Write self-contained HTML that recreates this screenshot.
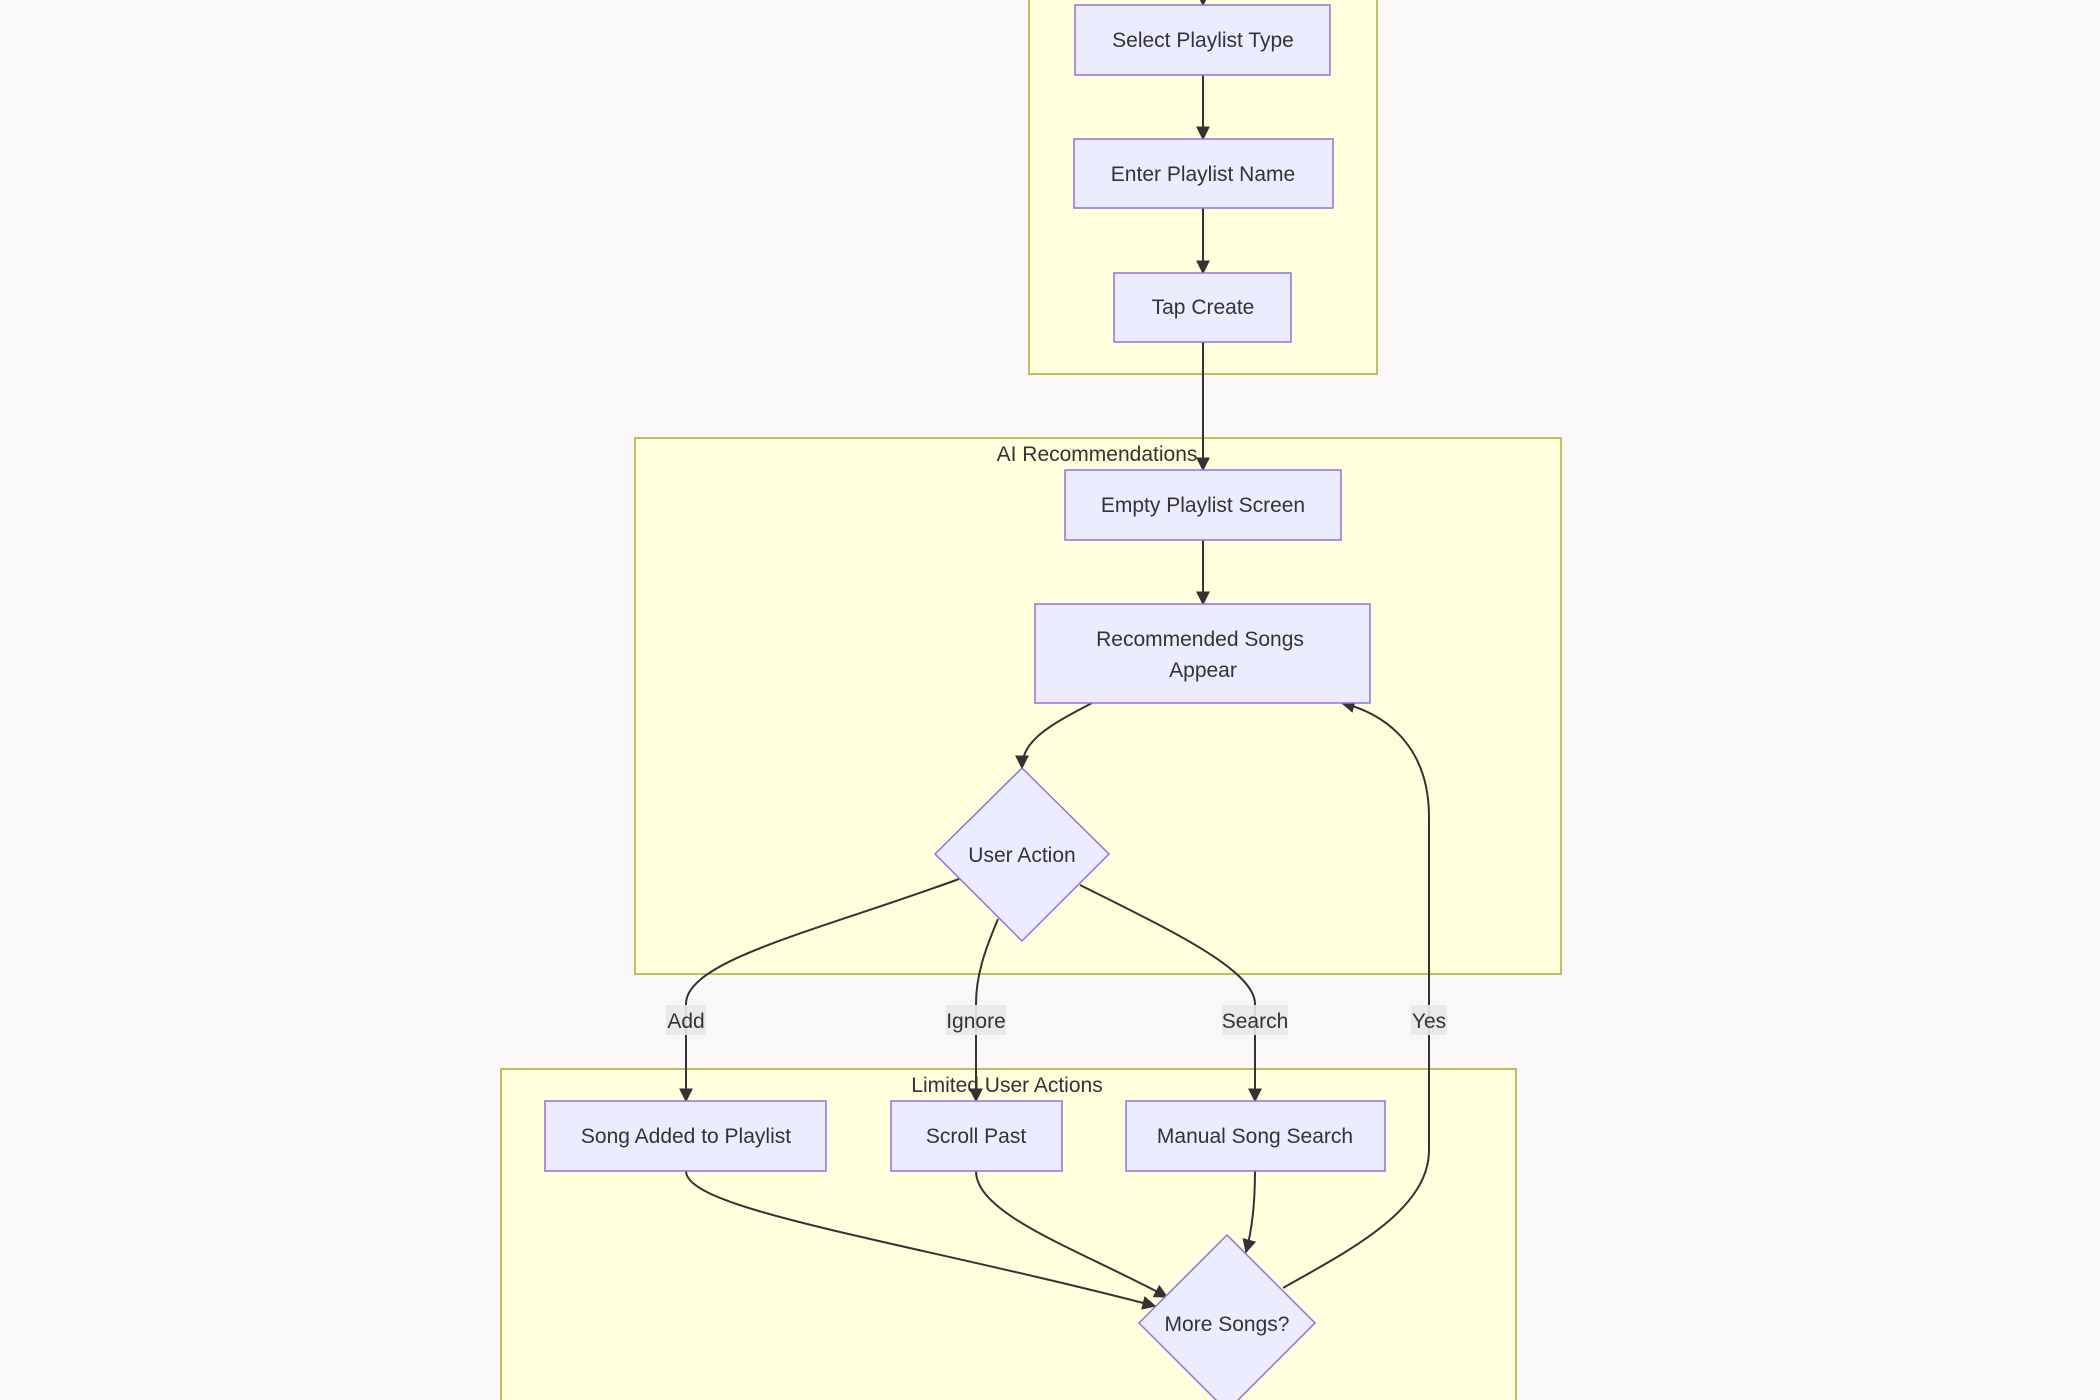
<!DOCTYPE html>
<html><head><meta charset="utf-8"><style>
html,body{margin:0;padding:0;background:#f9f8f7;}
svg{display:block}
text{font-family:"Liberation Sans","DejaVu Sans",sans-serif;font-size:21px;fill:#333;}
.c{fill:#ffffde;stroke:#aaaa33;stroke-width:1.5}
.n{fill:#ececff;stroke:#9370db;stroke-width:1.5}
.e{fill:none;stroke:#333;stroke-width:2}
.lb{fill:#e8e8e8;opacity:0.9}
</style></head><body>
<svg width="2100" height="1400" viewBox="0 0 2100 1400" xmlns="http://www.w3.org/2000/svg">
<defs><marker id="a" viewBox="0 0 10 10" refX="9" refY="5" markerWidth="7" markerHeight="7" orient="auto"><path d="M0,0L10,5L0,10z" fill="#333"/></marker></defs>
<rect x="0" y="0" width="2100" height="1400" fill="#f9f8f7"/>
<rect class="c" x="1029" y="-10" width="348" height="384"/>
<rect class="c" x="635" y="438" width="926" height="536"/>
<rect class="c" x="501" y="1069" width="1015" height="345"/>
<text x="1097" y="461" text-anchor="middle">AI Recommendations</text>
<text x="1007" y="1092" text-anchor="middle">Limited User Actions</text>

<path class="e" marker-end="url(#a)" d="M1203,-5L1203,5"/>
<path class="e" marker-end="url(#a)" d="M1203,75L1203,139"/>
<path class="e" marker-end="url(#a)" d="M1203,208L1203,273"/>
<path class="e" marker-end="url(#a)" d="M1203,342L1203,470"/>
<path class="e" marker-end="url(#a)" d="M1203,540L1203,604"/>
<path class="e" marker-end="url(#a)" d="M1092,703C1050,725 1022,740 1022,768"/>
<path class="e" marker-end="url(#a)" d="M959,879C820,930 686,960 686,1004L686,1101"/>
<path class="e" marker-end="url(#a)" d="M998,919C985,950 976,975 976,1004L976,1101"/>
<path class="e" marker-end="url(#a)" d="M1080,885C1170,930 1255,970 1255,1004L1255,1101"/>
<path class="e" marker-end="url(#a)" d="M686,1171C686,1210 900,1240 1155,1306"/>
<path class="e" marker-end="url(#a)" d="M976,1171C976,1215 1080,1250 1167,1297"/>
<path class="e" marker-end="url(#a)" d="M1255,1171C1255,1205 1252,1230 1246,1252"/>
<path class="e" marker-end="url(#a)" d="M1283,1288C1350,1250 1429,1210 1429,1150L1429,817C1429,750 1390,715 1342,703"/>

<rect class="lb" x="666" y="1005" width="40" height="30"/><text x="686" y="1028" text-anchor="middle">Add</text>
<rect class="lb" x="946" y="1005" width="60" height="30"/><text x="976" y="1028" text-anchor="middle">Ignore</text>
<rect class="lb" x="1222" y="1005" width="66" height="30"/><text x="1255" y="1028" text-anchor="middle">Search</text>
<rect class="lb" x="1411" y="1005" width="36" height="30"/><text x="1429" y="1028" text-anchor="middle">Yes</text>

<rect class="n" x="1075" y="5" width="255" height="70"/><text x="1203" y="47" text-anchor="middle">Select Playlist Type</text>
<rect class="n" x="1074" y="139" width="259" height="69"/><text x="1203" y="181" text-anchor="middle">Enter Playlist Name</text>
<rect class="n" x="1114" y="273" width="177" height="69"/><text x="1203" y="314" text-anchor="middle">Tap Create</text>
<rect class="n" x="1065" y="470" width="276" height="70"/><text x="1203" y="512" text-anchor="middle">Empty Playlist Screen</text>
<rect class="n" x="1035" y="604" width="335" height="99"/><text x="1200" y="646" text-anchor="middle">Recommended Songs</text><text x="1203" y="677" text-anchor="middle">Appear</text>
<path class="n" d="M1022,768L1109,854L1022,941L935,854Z"/><text x="1022" y="862" text-anchor="middle">User Action</text>
<rect class="n" x="545" y="1101" width="281" height="70"/><text x="686" y="1143" text-anchor="middle">Song Added to Playlist</text>
<rect class="n" x="891" y="1101" width="171" height="70"/><text x="976" y="1143" text-anchor="middle">Scroll Past</text>
<rect class="n" x="1126" y="1101" width="259" height="70"/><text x="1255" y="1143" text-anchor="middle">Manual Song Search</text>
<path class="n" d="M1227,1235L1315,1323L1227,1411L1139,1323Z"/><text x="1227" y="1331" text-anchor="middle">More Songs?</text>
</svg>
</body></html>
